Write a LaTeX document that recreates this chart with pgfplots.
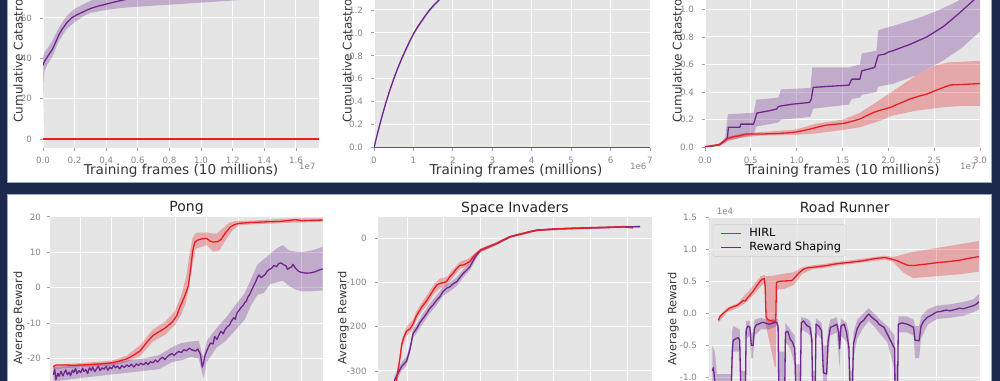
\documentclass[border=0pt]{standalone}
\usepackage{fontspec}
\setmainfont{DejaVu Sans}
\usepackage{pgfplots}
\pgfplotsset{compat=1.18}
\definecolor{navy}{RGB}{28,41,77}
\definecolor{paneledge}{RGB}{150,168,200}
\definecolor{bggray}{RGB}{229,229,229}
\definecolor{hred}{RGB}{232,30,35}
\definecolor{hpurple}{RGB}{112,38,140}
\definecolor{labgray}{RGB}{135,135,135}
\definecolor{tickgray}{RGB}{160,160,160}
\definecolor{axlab}{RGB}{55,55,55}
\definecolor{legedge}{RGB}{205,205,205}
\pgfplotsset{
  gg/.style={
    scale only axis, height=203pt,
    axis background/.style={fill=bggray},
    axis line style={draw=none},
    grid=major, grid style={white, line width=1pt},
    tick align=outside, tickpos=left,
    major tick length=3.5pt,
    tick style={tickgray, line width=0.8pt},
    /pgf/number format/assume math mode=true,
    every tick label/.append style={font=\fontsize{8.7}{10}\selectfont, text=labgray},
    xticklabel style={anchor=base, yshift=-12pt},
    yticklabel style={anchor=east},
    no markers, clip=true,
    label style={text=axlab},
  },
  toprow/.style={gg,
    xlabel style={at={(axis description cs:0.5,0)}, anchor=base, yshift=-27pt, font=\fontsize{13.6}{16}\selectfont},
    ylabel style={at={(axis description cs:0,0.5)}, anchor=center, font=\fontsize{12}{14}\selectfont},
    ylabel={Cumulative Catastrophes},
    yticklabel style={xshift=-4pt},
  },
  botrow/.style={gg,
    ylabel style={at={(axis description cs:0,0.5)}, anchor=center, font=\fontsize{11.4}{13}\selectfont},
    ylabel={Average Reward},
    title style={at={(axis description cs:0.5,1)}, anchor=base, yshift=-1.5pt, font=\fontsize{14}{16}\selectfont, text=black!85},
    xticklabels={},
  },
  band/.style={draw=none, fill=#1, fill opacity=0.3, forget plot},
  ln/.style={#1, line width=1.3pt, line join=round},
}
\begin{document}
\begin{tikzpicture}[x=1pt,y=1pt]
\useasboundingbox (0,0) rectangle (1000,380);
\clip (0,0) rectangle (1000,380);
\fill[navy] (-5,-5) rectangle (1005,385);
\filldraw[fill=white, draw=paneledge, line width=1pt] (7.3,197.3) rectangle (991,390);
\filldraw[fill=white, draw=paneledge, line width=1pt] (7.3,-10) rectangle (991.7,185);

% ---------------- Top left
\begin{axis}[toprow, at={(43pt,232pt)}, anchor=south west, width=276pt,
  xmin=0, xmax=1.746, ymin=-4.46, ymax=96.2,
  xtick={0,0.2,0.4,0.6,0.8,1.0,1.2,1.4,1.6},
  xticklabels={0.0,0.2,0.4,0.6,0.8,1.0,1.2,1.4,1.6},
  ytick={0,20,40,60}, yticklabels={0,20,40,60},
  extra y ticks={80}, extra y tick labels={},
  xlabel={Training frames (10 millions)},
  ylabel style={yshift=23.7pt},
  extra description/.code={\node[anchor=base east, font=\fontsize{8.7}{10}\selectfont, text=labgray] at (1,0) [yshift=-22pt] {1e7};},
]
\addplot[band=hpurple] coordinates {(0,41)(0.01,43)(0.03,45.2)(0.06,48.8)(0.1,55.2)(0.15,61)(0.2,64.5)(0.25,66.6)(0.3,68.5)(0.35,70)(0.4,71.5)(0.5,73.5)(0.6,75)(0.8,77)(1.0,78.5)(1.4,80.5)(1.74,82)
 (1.74,71.2)(1.5,70.2)(1.25,68.9)(1.0,67.6)(0.8,66.6)(0.6,65.6)(0.5,65)(0.4,64)(0.3,62.5)(0.25,60.6)(0.2,58)(0.15,54.5)(0.1,48.5)(0.06,41)(0.03,37.2)(0.01,34)(0.004,28)(0,8)};
\addplot[ln=hpurple] coordinates {(0,36.5)(0.01,38.6)(0.02,39.8)(0.03,41.0)(0.045,42.8)(0.06,44.6)(0.08,48.0)(0.1,51.6)(0.12,54.3)(0.15,57.6)(0.18,60.0)(0.21,61.4)(0.25,62.9)(0.3,64.7)(0.35,65.9)(0.4,66.9)(0.45,67.9)(0.5,68.8)(0.55,69.6)(0.6,70.3)(0.7,71.3)(0.8,72.1)(1.0,73.3)(1.2,74.3)(1.4,75.2)(1.6,76.0)(1.74,76.6)};
\addplot[ln=hred] coordinates {(0,0)(1.746,0)};
\end{axis}

% ---------------- Top middle
\begin{axis}[toprow, at={(374pt,232pt)}, anchor=south west, width=276pt,
  xmin=0, xmax=7, ymin=-0.003, ymax=1.766,
  xtick={0,1,2,3,4,5,6,7},
  ytick={0,0.2,0.4,0.6,0.8,1.0,1.2},
  yticklabels={0.0,0.2,0.4,0.6,0.8,1.0,1.2},
  extra y ticks={1.4,1.6}, extra y tick labels={},
  xlabel={Training frames (millions)},
  xlabel style={xshift=4pt},
  ylabel style={yshift=25.7pt},
  extra description/.code={\node[anchor=base east, font=\fontsize{8.7}{10}\selectfont, text=labgray] at (1,0) [yshift=-22pt] {1e6};},
]
\addplot[ln=hred] coordinates {(0,0)(7,0)};
\addplot[band=hpurple] coordinates {(0,0.004)(0.3,0.402)(0.6,0.702)(1.0,1.002)(1.4,1.207)(1.7,1.317)(2.0,1.402)
 (2.0,1.378)(1.7,1.293)(1.4,1.183)(1.0,0.978)(0.6,0.678)(0.3,0.378)(0,0)};
\addplot[ln=hpurple] coordinates {(0,0)(0.1,0.14)(0.2,0.27)(0.3,0.39)(0.4,0.5)(0.5,0.6)(0.6,0.69)(0.7,0.775)(0.8,0.85)(0.9,0.925)(1.0,0.99)(1.1,1.05)(1.2,1.10)(1.3,1.15)(1.4,1.195)(1.5,1.235)(1.6,1.27)(1.7,1.305)(1.8,1.335)(2.0,1.39)};
\end{axis}

% ---------------- Top right
\begin{axis}[toprow, at={(705pt,232pt)}, anchor=south west, width=275pt,
  xmin=0, xmax=3.0, ymin=-0.005, ymax=1.466,
  xtick={0,0.5,1.0,1.5,2.0,2.5,3.0},
  xticklabels={0.0,0.5,1.0,1.5,2.0,2.5,3.0},
  ytick={0,0.2,0.4,0.6,0.8,1.0},
  yticklabels={0.0,0.2,0.4,0.6,0.8,1.0},
  extra y ticks={1.2,1.4}, extra y tick labels={},
  xlabel={Training frames (10 millions)},
  ylabel style={yshift=26.7pt},
  extra description/.code={\node[anchor=base east, font=\fontsize{8.7}{10}\selectfont, text=labgray] at (1,0) [yshift=-22pt] {1e7};},
]
\addplot[band=hpurple] coordinates {(0,0.006)(0.16,0.03)(0.22,0.07)(0.25,0.24)(0.53,0.25)(0.56,0.345)(0.8,0.36)(0.83,0.42)(1.15,0.43)(1.17,0.58)(1.57,0.58)(1.69,0.6)(1.71,0.68)(1.87,0.7)(1.89,0.85)(2.05,0.88)(2.3,0.93)(2.5,0.98)(2.7,1.04)(2.8,1.075)(3.0,1.15)
 (3.0,0.84)(2.8,0.72)(2.6,0.63)(2.3,0.52)(2.05,0.46)(1.89,0.44)(1.87,0.4)(1.71,0.38)(1.69,0.36)(1.6,0.35)(1.57,0.31)(1.18,0.28)(1.15,0.22)(0.83,0.2)(0.8,0.18)(0.56,0.15)(0.53,0.09)(0.25,0.05)(0.22,0.03)(0.16,0.01)(0,0.002)};
\addplot[band=hred] coordinates {(0,0.005)(0.16,0.025)(0.24,0.075)(0.4,0.1)(0.6,0.11)(1.0,0.13)(1.2,0.17)(1.5,0.2)(1.69,0.25)(1.9,0.34)(2.1,0.43)(2.3,0.52)(2.5,0.59)(2.65,0.615)(3.0,0.627)
 (3.0,0.30)(2.8,0.30)(2.6,0.29)(2.3,0.265)(2.05,0.23)(1.9,0.19)(1.69,0.145)(1.5,0.125)(1.2,0.1)(1.0,0.09)(0.6,0.085)(0.4,0.07)(0.24,0.045)(0.16,0.015)(0,0.003)};
\addplot[ln=hpurple] coordinates {(0,0.004)(0.11,0.012)(0.16,0.02)(0.2,0.04)(0.22,0.05)(0.245,0.07)(0.255,0.145)(0.38,0.145)(0.39,0.168)(0.53,0.168)(0.545,0.2)(0.565,0.248)(0.7,0.265)(0.78,0.277)(0.8,0.295)(0.83,0.30)(0.96,0.313)(1.14,0.325)(1.16,0.35)(1.18,0.434)(1.33,0.441)(1.57,0.45)(1.6,0.494)(1.69,0.494)(1.71,0.554)(1.85,0.578)(1.89,0.667)(1.96,0.675)(2.0,0.69)(2.05,0.70)(2.24,0.747)(2.42,0.80)(2.6,0.875)(2.7,0.93)(2.78,0.976)(2.94,1.072)(3.0,1.11)};
\addplot[ln=hred] coordinates {(0,0.004)(0.16,0.02)(0.2,0.04)(0.236,0.06)(0.3,0.075)(0.38,0.084)(0.45,0.096)(0.6,0.096)(0.8,0.1)(0.963,0.108)(1.05,0.118)(1.145,0.132)(1.25,0.15)(1.327,0.161)(1.51,0.173)(1.6,0.188)(1.69,0.205)(1.76,0.228)(1.84,0.253)(1.93,0.272)(2.02,0.289)(2.13,0.32)(2.235,0.35)(2.33,0.37)(2.42,0.386)(2.6,0.434)(2.68,0.452)(2.8,0.455)(3.0,0.462)};
\end{axis}

% ---------------- Pong
\begin{axis}[botrow, at={(50pt,-39.5pt)}, anchor=south west, width=273pt,
  xmin=0.053, xmax=8.67, ymin=-37.2, ymax=20.1,
  xtick={1,2,3,4,5,6,7,8},
  ytick={-20,-10,0,10,20}, yticklabels={-20,-10,0,10,20},
  extra y ticks={-30}, extra y tick labels={},
  yticklabel style={xshift=-2pt},
  title={Pong},
  ylabel style={yshift=31pt},
]
\addplot[band=hred] coordinates {(0.16,-21.8)(1.0,-21.3)(2.0,-20.6)(2.47,-19.2)(2.9,-16.2)(3.3,-11.8)(3.7,-9.5)(4.0,-6.5)(4.2,-2)(4.35,3)(4.45,9)(4.55,14)(4.65,15.5)(5.0,15.6)(5.3,15.2)(5.5,16.7)(5.7,18.3)(5.9,18.8)(6.5,19.0)(7.5,19.5)(8.66,19.6)
 (8.66,18.6)(7.5,18.3)(6.5,17.9)(6.0,17.6)(5.8,16.0)(5.6,13.5)(5.4,10.5)(5.2,10.2)(5.0,12.0)(4.65,11)(4.55,6.5)(4.45,1)(4.35,-4)(4.2,-7.5)(4.0,-10.5)(3.7,-13.2)(3.3,-15.2)(2.9,-19.3)(2.47,-21.0)(2.0,-22.0)(1.0,-22.4)(0.16,-23.0)};
\addplot[band=hpurple] coordinates {(0.16,-22.5)(1.0,-21.8)(2.0,-21.0)(3.0,-20.0)(3.5,-19.0)(3.9,-16.8)(4.2,-15.6)(4.5,-15.2)(4.75,-15.0)(4.85,-18.5)(4.9,-19.5)(5.0,-15.0)(5.3,-11.5)(5.6,-8.5)(5.9,-5.0)(6.2,-1.5)(6.4,2.5)(6.6,6.5)(6.8,8.0)(7.0,9.5)(7.2,11.0)(7.4,12.0)(7.6,10.5)(7.8,10.2)(8.0,10.0)(8.3,10.5)(8.66,11.5)
 (8.66,-0.8)(8.3,-1.0)(8.0,-1.0)(7.8,-0.5)(7.6,0.5)(7.4,2.0)(7.2,1.5)(7.0,1.0)(6.8,-1.5)(6.6,-2.0)(6.4,-5.0)(6.2,-9.0)(5.9,-12.0)(5.6,-15.0)(5.3,-17.0)(5.0,-21.0)(4.9,-25.5)(4.85,-24)(4.75,-20.0)(4.5,-19.5)(4.2,-20.5)(3.9,-21.0)(3.5,-23.0)(3.0,-23.5)(2.0,-24.5)(1.0,-25.5)(0.16,-26.5)};
\addplot[ln=hpurple] coordinates {(0.16,-24.6)(0.2,-23.0)(0.24,-25.9)(0.3,-24.2)(0.34,-25.0)(0.4,-23.6)(0.46,-24.9)(0.5,-24.1)(0.55,-23.2)(0.6,-24.6)(0.66,-23.8)(0.7,-24.9)(0.76,-23.3)(0.8,-23.9)(0.86,-22.8)(0.9,-24.3)(0.97,-23.4)(1.02,-24.0)(1.08,-22.7)(1.12,-23.6)(1.18,-23.1)(1.24,-24.2)(1.3,-22.6)(1.36,-23.4)(1.4,-22.4)(1.47,-23.7)(1.52,-22.9)(1.58,-22.1)(1.63,-23.4)(1.7,-22.6)(1.76,-23.0)(1.82,-22.2)(1.88,-23.3)(1.94,-22.4)(2.0,-22.9)(2.06,-21.9)(2.12,-22.6)(2.18,-22.1)(2.25,-22.9)(2.32,-22.0)(2.4,-22.5)(2.48,-21.8)(2.55,-22.3)(2.62,-21.6)(2.7,-22.4)(2.78,-21.5)(2.85,-21.9)(2.92,-21.3)(3.0,-21.8)(3.08,-21.1)(3.15,-21.7)(3.22,-20.9)(3.3,-21.2)(3.38,-20.4)(3.45,-21.0)(3.52,-20.2)(3.6,-19.6)(3.68,-20.3)(3.75,-19.5)(3.82,-19.0)(3.9,-18.6)(3.97,-19.1)(4.05,-18.4)(4.12,-18.0)(4.2,-18.3)(4.28,-17.5)(4.36,-17.8)(4.45,-17.1)(4.55,-17.6)(4.65,-17.9)(4.72,-17.3)(4.8,-18.8)(4.86,-22.4)(4.9,-21.2)(4.95,-19.0)(5.05,-16.8)(5.12,-15.6)(5.2,-15.9)(5.25,-13.8)(5.32,-14.6)(5.4,-13.1)(5.45,-12.3)(5.52,-13.0)(5.58,-11.8)(5.65,-11.0)(5.72,-10.5)(5.78,-9.4)(5.85,-8.5)(5.9,-8.9)(5.95,-7.2)(6.02,-6.4)(6.08,-5.6)(6.15,-5.0)(6.2,-4.2)(6.25,-3.8)(6.3,-2.6)(6.35,-2.0)(6.42,-0.6)(6.48,0.5)(6.55,1.8)(6.6,2.9)(6.65,3.6)(6.72,2.8)(6.78,3.3)(6.85,3.8)(6.9,4.6)(6.95,5.0)(7.05,5.5)(7.12,6.3)(7.2,5.9)(7.27,6.8)(7.35,7.0)(7.42,6.5)(7.5,6.2)(7.55,5.2)(7.62,5.6)(7.68,5.9)(7.72,6.6)(7.8,5.5)(7.9,4.6)(8.0,4.3)(8.15,4.1)(8.3,4.2)(8.45,4.6)(8.55,5.0)(8.66,5.3)};
\addplot[ln=hred] coordinates {(0.16,-22.4)(0.2,-22.0)(0.26,-21.8)(0.5,-21.8)(0.8,-21.9)(1.1,-21.8)(1.5,-21.6)(1.95,-21.3)(2.2,-20.8)(2.47,-20.1)(2.7,-19.0)(2.9,-17.8)(3.1,-15.5)(3.3,-13.5)(3.5,-12.4)(3.7,-11.3)(3.9,-9.8)(4.05,-8.0)(4.15,-5.5)(4.3,-2.5)(4.42,0.5)(4.5,6)(4.56,10.5)(4.62,12.8)(4.7,13.4)(4.85,13.8)(5.0,13.9)(5.1,13.2)(5.2,12.9)(5.35,13.0)(5.45,13.6)(5.6,15.6)(5.75,17.2)(5.9,17.9)(6.05,18.2)(6.4,18.4)(6.9,18.6)(7.3,18.7)(7.6,19.0)(7.8,19.2)(8.0,18.9)(8.3,19.0)(8.66,19.1)};
\end{axis}

% ---------------- Space Invaders
\begin{axis}[botrow, at={(378.3pt,-39.7pt)}, anchor=south west, width=273.4pt,
  xmin=0.21, xmax=7.665, ymin=-410.4, ymax=48.9,
  xtick={1,2,3,4,5,6,7},
  ytick={-300,-200,-100,0}, yticklabels={-300,-200,-100,0},
  extra y ticks={-400}, extra y tick labels={},
  yticklabel style={xshift=-4.7pt},
  title={Space Invaders},
  ylabel style={yshift=35pt},
]
\addplot[band=hpurple] coordinates {(0.5,-410)(0.66,-310)(0.845,-280)(0.98,-268)(1.07,-242)(1.16,-205)(1.25,-195)(1.44,-169)(1.6,-149)(1.8,-129)(1.98,-110)(2.16,-100)(2.35,-88)(2.53,-70)(2.71,-56)(2.89,-32)(3.0,-23)(3.44,-9)(3.8,5.5)(4.53,20)(5.5,24.5)(6.89,28)(7.35,28.5)
 (7.35,24.5)(6.89,24)(5.5,20.5)(4.53,16)(3.8,0.5)(3.44,-15)(3.0,-31)(2.89,-44)(2.71,-72)(2.53,-88)(2.35,-108)(2.16,-120)(1.98,-130)(1.8,-151)(1.6,-171)(1.44,-191)(1.25,-215)(1.16,-225)(1.07,-262)(0.98,-288)(0.845,-300)(0.66,-330)(0.5,-430)};
\addplot[band=hred] coordinates {(0.55,-410)(0.71,-308)(0.85,-230)(0.98,-200)(1.15,-185)(1.25,-165)(1.4,-145)(1.53,-130)(1.71,-106)(1.89,-91)(2.07,-88)(2.25,-70)(2.44,-53)(2.65,-47)(2.8,-36)(3.0,-23)(3.44,-8.5)(3.8,6)(4.16,13.5)(4.53,21)(5.5,25)(6.16,26.5)(6.89,28.5)(7.16,26.5)
 (7.16,21.5)(6.89,23.5)(6.16,21.5)(5.5,20)(4.53,16)(4.16,8.5)(3.8,1.2)(3.44,-14.5)(3.0,-31)(2.8,-48)(2.65,-63)(2.44,-69)(2.25,-88)(2.07,-108)(1.89,-113)(1.71,-128)(1.53,-152)(1.4,-165)(1.25,-185)(1.15,-205)(0.98,-220)(0.85,-250)(0.71,-328)(0.55,-430)};
\addplot[ln=hpurple] coordinates {(0.5,-420)(0.66,-320)(0.75,-305)(0.845,-290)(0.98,-278)(1.07,-252)(1.16,-215)(1.25,-205)(1.35,-190)(1.44,-180)(1.53,-170)(1.6,-160)(1.71,-150)(1.8,-140)(1.89,-132)(1.98,-120)(2.07,-113)(2.16,-110)(2.25,-103)(2.35,-98)(2.44,-88)(2.53,-79)(2.62,-72)(2.71,-64)(2.8,-50)(2.89,-38)(3.0,-27)(3.2,-20)(3.44,-12)(3.6,-5)(3.8,3)(4.0,8)(4.16,11)(4.35,15)(4.53,18)(5.0,21)(5.5,22.5)(6.16,24)(6.6,25)(6.89,26)(7.35,26.5)};
\addplot[ln=hred] coordinates {(0.55,-420)(0.71,-318)(0.8,-272)(0.85,-240)(0.9,-225)(0.98,-210)(1.07,-205)(1.15,-195)(1.25,-175)(1.4,-155)(1.53,-141)(1.65,-125)(1.71,-117)(1.8,-106)(1.89,-102)(2.0,-100)(2.07,-98)(2.15,-88)(2.25,-79)(2.35,-68)(2.44,-61)(2.55,-60)(2.65,-55)(2.71,-52)(2.8,-42)(2.89,-34)(3.0,-27)(3.2,-20)(3.44,-11.5)(3.6,-4)(3.8,3.6)(4.0,8)(4.16,11)(4.35,15)(4.53,18.5)(5.0,21)(5.5,22.5)(6.16,24)(6.6,25)(6.89,26)(7.16,24)};
\end{axis}

% ---------------- Road Runner
\begin{axis}[botrow, at={(709.3pt,-40.3pt)}, anchor=south west, width=270.7pt,
  xmin=0.083, xmax=5.936, ymin=-1.672, ymax=1.5,
  xtick={1,2,3,4,5},
  ytick={-1.0,-0.5,0,0.5,1.0,1.5}, yticklabels={-1.0,-0.5,0.0,0.5,1.0,1.5},
  extra y ticks={-1.5}, extra y tick labels={},
  yticklabel style={xshift=-5.4pt},
  title={Road Runner},
  ylabel style={yshift=36pt},
  legend cell align=left,
  legend style={at={(0.013,0.965)}, anchor=north west, font=\fontsize{11.3}{13.5}\selectfont,
    fill=bggray, fill opacity=0.8, text opacity=1, draw opacity=1, draw=legedge,
    rounded corners=2.5pt, inner xsep=3pt, inner ysep=2pt, row sep=0pt},
  extra description/.code={\node[anchor=base west, font=\fontsize{8.7}{10}\selectfont, text=labgray] at (0,1) [xshift=4pt, yshift=3pt] {1e4};},
]
\addplot[band=hred] coordinates {(0.28,-0.07)(0.46,0.08)(0.7,0.16)(0.82,0.26)(0.95,0.36)(1.1,0.5)(1.2,0.58)(1.27,0.6)(1.3,0.58)(1.5,0.59)(1.53,0.6)(1.7,0.62)(1.9,0.64)(2.1,0.72)(2.33,0.75)(2.6,0.775)(2.9,0.81)(3.27,0.84)(3.55,0.87)(3.88,0.9)(4.06,0.88)(4.27,0.92)(4.49,0.96)(5.0,1.02)(5.5,1.08)(5.91,1.13)
 (5.91,0.65)(5.5,0.61)(5.0,0.58)(4.49,0.55)(4.27,0.64)(4.06,0.80)(3.88,0.84)(3.55,0.81)(3.27,0.78)(2.9,0.75)(2.6,0.715)(2.33,0.69)(2.1,0.62)(1.9,0.44)(1.7,0.38)(1.535,0.37)(1.52,-0.84)(1.5,-0.84)(1.31,-0.2)(1.29,0.3)(1.27,0.47)(1.2,0.42)(1.1,0.34)(0.95,0.22)(0.82,0.14)(0.7,0.09)(0.46,0.01)(0.28,-0.15)};
\addplot[band=hpurple] coordinates {(0.15,-0.5)(0.2,-0.6)(0.25,-0.95)(0.55,-0.95)(0.58,-0.25)(0.6,-0.2)(0.74,-0.25)(0.77,-0.9)(0.86,-0.9)(0.88,-0.12)(0.96,-0.12)(0.99,-0.3)(1.03,-0.3)(1.06,-0.1)(1.2,-0.07)(1.39,-0.1)(1.54,-0.08)(1.57,-0.1)(1.59,-0.6)(1.71,-0.6)(1.73,-0.15)(1.83,-0.25)(1.93,-0.35)(1.96,-0.8)(2.05,-0.8)(2.07,-0.06)(2.19,-0.08)(2.26,-0.12)(2.3,-0.25)(2.32,-0.9)(2.37,-0.9)(2.39,-0.08)(2.51,-0.15)(2.55,-0.5)(2.62,-0.5)(2.65,-0.25)(2.7,-0.1)(2.84,-0.06)(2.9,-0.3)(2.93,-0.08)(3.05,-0.15)(3.1,-0.3)(3.13,-0.9)(3.17,-0.9)(3.2,-0.3)(3.28,-0.1)(3.42,0.0)(3.53,0.08)(3.64,0.0)(3.75,-0.08)(3.93,-0.2)(4.04,-0.3)(4.09,-0.35)(4.1,-0.8)(4.15,-0.8)(4.17,-0.05)(4.36,-0.05)(4.5,-0.1)(4.53,-0.2)(4.62,-0.2)(4.66,-0.05)(4.8,0.06)(5.0,0.12)(5.29,0.14)(5.58,0.18)(5.8,0.22)(5.91,0.3)
 (5.91,0.06)(5.8,0.02)(5.58,-0.04)(5.29,-0.07)(5.0,-0.09)(4.8,-0.18)(4.66,-0.4)(4.62,-0.7)(4.53,-0.7)(4.5,-0.35)(4.36,-0.3)(4.17,-0.3)(4.15,-1.6)(4.1,-1.6)(4.09,-0.9)(4.04,-0.75)(3.93,-0.45)(3.75,-0.3)(3.64,-0.2)(3.53,-0.12)(3.42,-0.22)(3.28,-0.4)(3.2,-0.7)(3.17,-1.6)(3.13,-1.6)(3.1,-0.75)(3.05,-0.45)(2.93,-0.35)(2.9,-0.85)(2.84,-0.3)(2.7,-0.35)(2.65,-0.7)(2.62,-1.1)(2.55,-1.1)(2.51,-0.4)(2.39,-0.3)(2.37,-1.6)(2.32,-1.6)(2.3,-0.6)(2.26,-0.35)(2.19,-0.3)(2.07,-0.25)(2.05,-1.6)(1.96,-1.6)(1.93,-0.8)(1.83,-0.55)(1.73,-0.45)(1.71,-1.6)(1.59,-1.6)(1.57,-0.3)(1.54,-0.2)(1.39,-0.25)(1.2,-0.25)(1.06,-0.35)(1.03,-0.7)(0.99,-0.7)(0.96,-0.35)(0.88,-0.4)(0.86,-1.6)(0.77,-1.6)(0.74,-0.6)(0.6,-0.6)(0.58,-0.9)(0.55,-1.6)(0.25,-1.6)(0.2,-1.3)(0.15,-1.2)};
\addplot[color=hred, line width=1.3pt, line join=round, forget plot] coordinates {(0.28,-0.11)(0.32,-0.04)(0.38,0.0)(0.46,0.045)(0.52,0.08)(0.57,0.095)(0.62,0.11)(0.68,0.12)(0.75,0.16)(0.82,0.2)(0.86,0.19)(0.9,0.235)(0.97,0.29)(1.04,0.355)(1.1,0.42)(1.18,0.5)(1.23,0.535)(1.27,0.54)(1.29,0.44)(1.31,-0.06)(1.35,-0.1)(1.4,-0.115)(1.5,-0.125)(1.52,-0.12)(1.535,0.485)(1.61,0.5)(1.7,0.505)(1.86,0.51)(1.92,0.55)(1.97,0.59)(2.05,0.65)(2.12,0.69)(2.2,0.71)(2.33,0.72)(2.5,0.735)(2.62,0.745)(2.75,0.765)(2.91,0.78)(3.1,0.795)(3.27,0.81)(3.4,0.82)(3.55,0.84)(3.7,0.86)(3.88,0.87)(3.95,0.86)(4.06,0.84)(4.15,0.82)(4.27,0.78)(4.38,0.75)(4.49,0.745)(4.6,0.755)(4.78,0.77)(5.0,0.79)(5.28,0.81)(5.5,0.83)(5.7,0.86)(5.91,0.885)};
\addplot[color=hpurple, line width=1.3pt, line join=round, forget plot] coordinates {(0.15,-0.9)(0.17,-0.85)(0.2,-1.05)(0.25,-1.4)(0.55,-1.4)(0.58,-0.6)(0.6,-0.42)(0.65,-0.4)(0.71,-0.38)(0.74,-0.42)(0.77,-1.4)(0.86,-1.4)(0.88,-0.25)(0.92,-0.2)(0.96,-0.22)(0.99,-0.5)(1.03,-0.5)(1.06,-0.23)(1.1,-0.18)(1.14,-0.17)(1.2,-0.15)(1.25,-0.14)(1.32,-0.16)(1.39,-0.17)(1.46,-0.15)(1.54,-0.14)(1.57,-0.2)(1.59,-1.4)(1.71,-1.4)(1.73,-0.3)(1.78,-0.28)(1.83,-0.4)(1.88,-0.45)(1.93,-0.55)(1.96,-1.4)(2.05,-1.4)(2.07,-0.15)(2.12,-0.12)(2.19,-0.19)(2.26,-0.22)(2.3,-0.4)(2.32,-1.4)(2.37,-1.4)(2.39,-0.17)(2.45,-0.2)(2.51,-0.27)(2.53,-0.6)(2.55,-0.93)(2.62,-0.95)(2.65,-0.45)(2.7,-0.22)(2.77,-0.2)(2.84,-0.17)(2.88,-0.3)(2.9,-0.55)(2.93,-0.2)(3.0,-0.17)(3.05,-0.3)(3.1,-0.52)(3.13,-1.4)(3.17,-1.4)(3.2,-0.48)(3.28,-0.24)(3.35,-0.15)(3.42,-0.11)(3.48,-0.05)(3.53,-0.01)(3.58,-0.05)(3.64,-0.09)(3.7,-0.12)(3.75,-0.17)(3.86,-0.22)(3.93,-0.32)(4.04,-0.48)(4.09,-0.55)(4.1,-1.4)(4.15,-1.4)(4.17,-0.17)(4.25,-0.15)(4.36,-0.17)(4.45,-0.2)(4.5,-0.22)(4.53,-0.42)(4.62,-0.43)(4.66,-0.2)(4.72,-0.12)(4.8,-0.06)(4.86,-0.04)(4.95,0.0)(5.0,0.02)(5.1,0.03)(5.2,0.05)(5.29,0.04)(5.4,0.06)(5.5,0.08)(5.58,0.07)(5.7,0.1)(5.8,0.12)(5.87,0.15)(5.91,0.18)};
\addlegendimage{legend image code/.code={\draw[draw=hred, line width=1.3pt] (5pt,0pt) -- (25pt,0pt); \path (0pt,0pt) (31pt,0pt);}}
\addlegendentry{HIRL}
\addlegendimage{legend image code/.code={\draw[draw=hpurple, line width=1.3pt] (5pt,0pt) -- (25pt,0pt); \path (0pt,0pt) (31pt,0pt);}}
\addlegendentry{Reward Shaping}
\end{axis}
\end{tikzpicture}
\end{document}
